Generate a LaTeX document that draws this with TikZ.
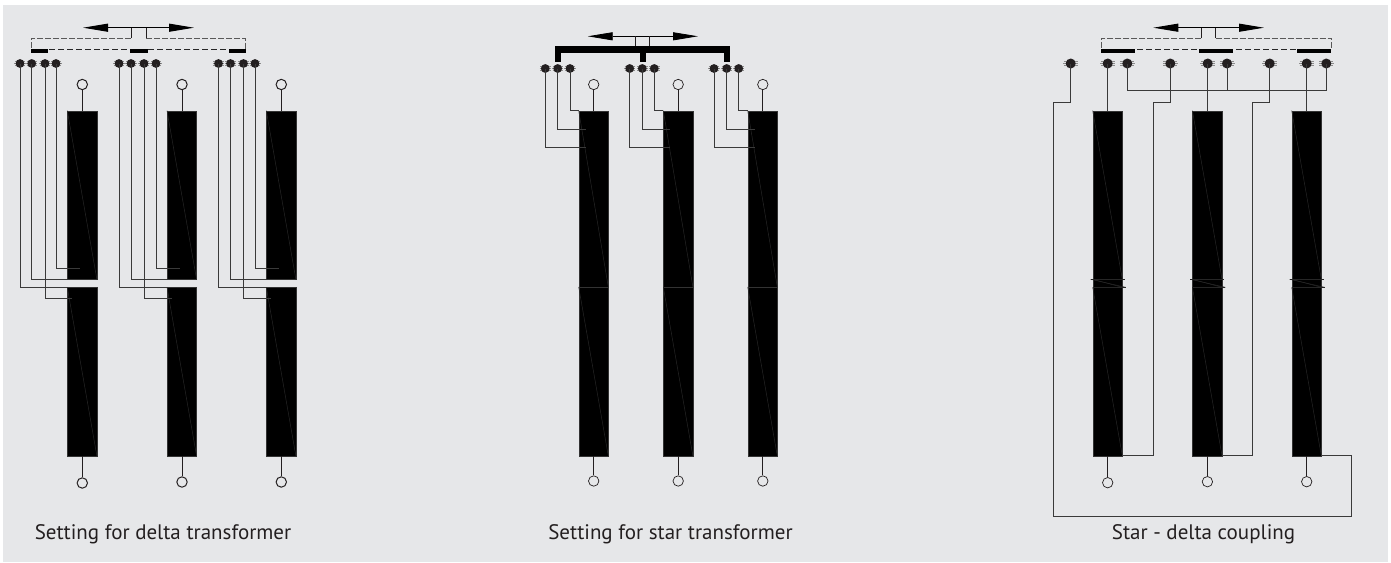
\documentclass[tikz,border=0pt]{standalone}
\usepackage{fontspec}
\setmainfont{PT Sans}
\usetikzlibrary{arrows.meta}
\definecolor{bgc}{HTML}{E6E7E9}
\definecolor{ink}{HTML}{231F20}
\definecolor{wirec}{HTML}{3A3A3A}
\definecolor{faintc}{HTML}{262626}
\tikzset{
  wire/.style={draw=wirec,line width=0.9pt,line join=miter},
  coilbox/.style={fill=black,draw=black!80,line width=0.4pt,inner sep=0pt,outer sep=0pt,anchor=north west,minimum width=29.6pt},
  faint/.style={draw=faintc,line width=0.5pt},
  studdot/.style={circle,fill=ink,inner sep=0pt,minimum size=8.8pt},
  bigstud/.style={circle,fill=ink,inner sep=0pt,minimum size=10pt},
  spike/.style={draw=black!45,line width=0.9pt},
  termo/.style={circle,draw=ink,fill=bgc,inner sep=0pt,minimum size=10.4pt,line width=1pt},
  termthin/.style={termo,line width=0.7pt},
  dbl/.style={draw=black,line width=1pt,{Triangle[length=25pt,width=8pt]}-{Triangle[length=25pt,width=8pt]}},
  stemline/.style={draw=ink,line width=0.9pt},
  dashtop/.style={draw=black!65,line width=1pt,dash pattern=on 6pt off 2pt},
  dashlow/.style={draw=black!85,line width=0.8pt,dash pattern=on 6pt off 3pt},
  barbox/.style={fill=black,draw=none,inner sep=0pt,outer sep=0pt,anchor=north west,minimum height=4.2pt},
  captext/.style={font=\fontsize{21}{21}\selectfont,text=ink,inner sep=0pt,anchor=base},
}
\newcommand{\stud}[3]{%
  \draw[spike] (#2-5.6,#3) -- (#2+5.6,#3) (#2-5.2,#3-1.8) -- (#2+5.2,#3-1.8) (#2-5.2,#3+1.8) -- (#2+5.2,#3+1.8);
  \node[studdot] (#1) at (#2,#3) {};}
\newcommand{\bstud}[3]{%
  \draw[spike] (#2-7.5,#3) -- (#2+7.5,#3) (#2-7,#3-2) -- (#2+7,#3-2) (#2-7,#3+2) -- (#2+7,#3+2);
  \node[bigstud] (#1) at (#2,#3) {};}
\newcommand{\coil}[5]{%
  \node[coilbox,minimum height=#5pt] (#1) at (#2,#3) {};
  \draw[faint] (#1.north west) -- (#1.south east);}
\begin{document}
\begin{tikzpicture}[x=1pt,y=-1pt]
\useasboundingbox (0,0) rectangle (1391,562);
\fill[white] (0,0) rectangle (1391,562);
\fill[bgc] (3,5) rectangle (1388,562);

% ---------- delta ----------
\foreach \g/\x/\a/\b/\c/\d/\yt/\yb in {1/67.3/20/31.7/45/56/84.5/483,2/167/119/131/144/156/84.5/482,3/266.3/218.5/230.5/243.5/255/84.5/482}{
  \coil{du\g}{\x}{110.7}{}{168.8}
  \coil{dl\g}{\x}{287.3}{}{168.8}
  \stud{da\g}{\a}{63.5}
  \stud{db\g}{\b}{63.5}
  \stud{dc\g}{\c}{63.5}
  \stud{dd\g}{\d}{63.5}
  \coordinate (dwa\g) at (\x,287.5);
  \coordinate (dwb\g) at (\x,279.5);
  \coordinate (dwc\g) at (\x+5,298.7);
  \coordinate (dwd\g) at (\x+13,268);
  \draw[wire] (da\g.center) |- (dwa\g);
  \draw[wire] (db\g.center) |- (dwb\g);
  \draw[wire] (dc\g.center) |- (dwc\g);
  \draw[wire] (dd\g.center) |- (dwd\g);
  \node[termo] (dtt\g) at (\x+15,84.5) {};
  \node[termo] (dtb\g) at (\x+15,\yb) {};
  \draw[stemline] (dtt\g) -- (du\g.north west -| dtt\g);
  \draw[stemline] (dl\g.south west -| dtb\g) -- (dtb\g);
}
\coordinate (dal) at (83,27.7);
\coordinate (dar) at (194,27.7);
\draw[dbl] (dal) -- (dar);
\coordinate (ds1t) at (131,27.7); \coordinate (ds1b) at (131,38);
\coordinate (ds2t) at (146,27.7); \coordinate (ds2b) at (146,38);
\coordinate (dll) at (31,49.5); \coordinate (dlr) at (245.5,49.5);
\draw[stemline] (ds1t) -- (ds1b);
\draw[stemline] (ds2t) -- (ds2b);
\draw[dashtop] (ds1b) -| (dll);
\draw[dashtop] (ds2b) -| (dlr);
\draw[dashlow] (dll) -- (dlr);
\node[barbox,minimum width=17pt] (dbar1) at (31,49.1) {};
\node[barbox,minimum width=18pt] (dbar2) at (130,49.1) {};
\node[barbox,minimum width=17pt] (dbar3) at (228.5,49.1) {};
\node[captext] (dcap) at (163,539) {Setting for delta transformer};

% ---------- star ----------
\foreach \g/\x/\a/\b/\c/\xt/\yb in {1/578.7/545.3/557.7/570/593.7/481,2/663.3/629.7/642.3/654.3/678.2/481,3/747.7/714/726.7/738.7/762.8/481}{
  \coil{su\g}{\x}{110.7}{}{176.3}
  \coil{sl\g}{\x}{287}{}{169}
  \stud{sa\g}{\a}{68.5}
  \stud{sb\g}{\b}{68.5}
  \stud{sc\g}{\c}{68.5}
  \coordinate (swa\g) at (\x+7,147);
  \coordinate (swb\g) at (\x+7,129.5);
  \coordinate (swc\g) at (\x,110.7);
  \draw[wire] (sa\g.center) |- (swa\g);
  \draw[wire] (sb\g.center) |- (swb\g);
  \draw[wire] (sc\g.center) |- (swc\g);
  \node[termthin] (stt\g) at (\xt,84.5) {};
  \node[termthin] (stb\g) at (\xt,\yb) {};
  \draw[stemline,line width=0.7pt] (stt\g) -- (su\g.north west -| stt\g);
  \draw[stemline,line width=0.7pt] (sl\g.south west -| stb\g) -- (stb\g);
}
\coordinate (sal) at (587.7,36.3);
\coordinate (sar) at (698,36.3);
\draw[dbl,line width=0.8pt] (sal) -- (sar);
\coordinate (ss1t) at (635,36.3); \coordinate (ss1b) at (635,46);
\coordinate (ss2t) at (649.7,36.3); \coordinate (ss2b) at (649.7,46);
\draw[stemline,line width=0.7pt] (ss1t) -- (ss1b);
\draw[stemline,line width=0.7pt] (ss2t) -- (ss2b);
\node[barbox,minimum width=174.7pt,minimum height=7.3pt] (sbus) at (555,46) {};
\node[barbox,minimum width=5.8pt,minimum height=9pt] (sdrop1) at (555,53) {};
\node[barbox,minimum width=6.4pt,minimum height=9pt] (sdrop2) at (639.5,53) {};
\node[barbox,minimum width=5.8pt,minimum height=9pt] (sdrop3) at (724,53) {};
\node[captext] (scap) at (670.5,539) {Setting for star transformer};

% ---------- star-delta ----------
\foreach \g/\x/\yb in {1/1092.7/482.7,2/1192.4/481.7,3/1291.7/481.7}{
  \coil{xu\g}{\x}{110.7}{}{168.6}
  \coil{xm\g}{\x}{279.3}{}{8}
  \coil{xl\g}{\x}{287.3}{}{168.4}
  \coordinate (xta\g) at (\x-2,279.3); \coordinate (xtb\g) at (\x+32,279.3);
  \coordinate (xtc\g) at (\x,287.3); \coordinate (xtd\g) at (\x+33,287.3);
  \draw[faint] (xta\g) -- (xtb\g);
  \draw[faint] (xtc\g) -- (xtd\g);
  \draw[faint] (xta\g) -- (xtd\g);
  \node[termthin] (xterm\g) at (\x+15,\yb) {};
  \draw[stemline,line width=0.7pt] (xl\g.south west -| xterm\g) -- (xterm\g);
}
\bstud{xs0}{1070.7}{63.5}
\bstud{xs1}{1107.7}{63.5}
\bstud{xs2}{1127.3}{63.5}
\bstud{xs3}{1170.3}{63.5}
\bstud{xs4}{1207.7}{63.5}
\bstud{xs5}{1227}{63.5}
\bstud{xs6}{1269.7}{63.5}
\bstud{xs7}{1306.7}{63.5}
\bstud{xs8}{1326.3}{63.5}
% star point
\coordinate (xj) at (1127.3,90);
\coordinate (xk) at (1326.3,90);
\draw[wire] (xs2.center) -- (xj) -- (xk) -- (xs8.center);
\draw[wire] (xs5.center) -- (xs5.center |- xk);
% to coils
\draw[wire] (xs1.center) -- (xs1.center |- xu1.north);
\draw[wire] (xs4.center) -- (xs4.center |- xu2.north);
\draw[wire] (xs7.center) -- (xs7.center |- xu3.north);
% delta returns
\coordinate (xa1) at (1070.7,102.7); \coordinate (xa2) at (1053.7,102.7);
\coordinate (xa3) at (1053.7,516.3); \coordinate (xa4) at (1351.3,516.3);
\coordinate (xa5) at (1351.3,455.7);
\draw[wire] (xs0.center) -- (xa1) -- (xa2) -- (xa3) -- (xa4) -- (xa5) -- (xl3.south east);
\coordinate (xb1) at (1170.3,102.7); \coordinate (xb2) at (1153.3,102.7); \coordinate (xb3) at (1153.3,455.7);
\draw[wire] (xs3.center) -- (xb1) -- (xb2) -- (xb3) -- (xl1.south east);
\coordinate (xc1) at (1269.7,102.7); \coordinate (xc2) at (1252.7,102.7); \coordinate (xc3) at (1252.7,455.7);
\draw[wire] (xs6.center) -- (xc1) -- (xc2) -- (xc3) -- (xl2.south east);
\coordinate (xal) at (1153.3,27.7);
\coordinate (xar) at (1264,27.7);
\draw[dbl] (xal) -- (xar);
\coordinate (xs1t) at (1201.3,27.7); \coordinate (xs1b) at (1201.3,38);
\coordinate (xs2t) at (1215.7,27.7); \coordinate (xs2b) at (1215.7,38);
\coordinate (xll) at (1101.2,49.5); \coordinate (xlr) at (1331.3,49.5);
\draw[stemline] (xs1t) -- (xs1b);
\draw[stemline] (xs2t) -- (xs2b);
\draw[dashtop] (xs1b) -| (xll);
\draw[dashtop] (xs2b) -| (xlr);
\draw[dashlow] (xll) -- (xlr);
\node[barbox,minimum width=33.5pt] (xbar1) at (1101.2,49.1) {};
\node[barbox,minimum width=34.3pt] (xbar2) at (1199,49.1) {};
\node[barbox,minimum width=34pt] (xbar3) at (1297.3,49.1) {};
\node[captext] (xcap) at (1203.5,539) {Star - delta coupling};
\end{tikzpicture}
\end{document}
